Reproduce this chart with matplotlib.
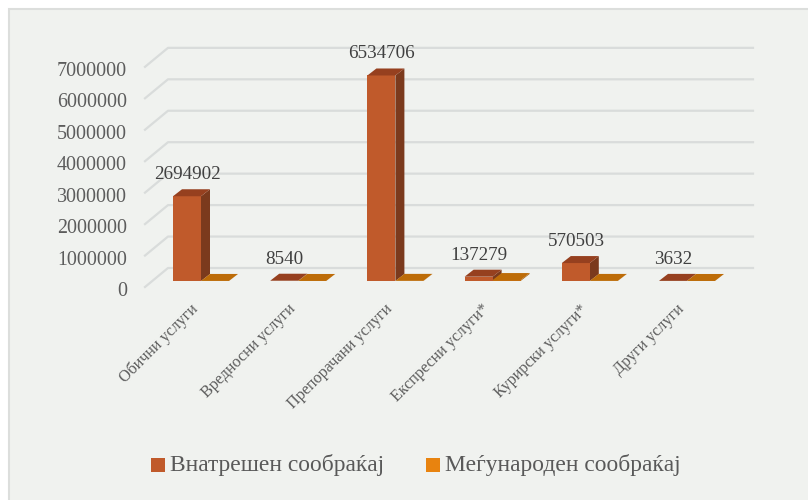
#!/usr/bin/env python3

import matplotlib
matplotlib.use("Agg")
import matplotlib.pyplot as plt
from matplotlib.patches import Polygon, Rectangle

categories = [
    "Обични услуги",
    "Вредносни услуги",
    "Препорачани услуги",
    "Експресни услуги*",
    "Курирски услуги*",
    "Други услуги",
]
domestic = [2694902, 8540, 6534706, 137279, 570503, 3632]
international = [1500, 800, 4000, 30000, 2500, 600]
y_ticks = [0, 1000000, 2000000, 3000000, 4000000, 5000000, 6000000, 7000000]
legend_labels = ["Внатрешен сообраќај", "Меѓународен сообраќај"]

W, H = 808, 500
PX_X = 97.2          # pixels per category
PX_Y = 31.45 / 1e6   # pixels per unit
X0, Y0 = 201, 281    # pixel of first category, value 0


def dx(px):
    return px / PX_X


def dy(px):
    return px / PX_Y


def box(ax, x, width, value, front, side, top):
    depth_x, depth_y = dx(9), dy(7)
    right = x + width
    ax.add_patch(Polygon([(x, 0), (right, 0), (right, value), (x, value)], color=front, lw=0, zorder=4))
    ax.add_patch(Polygon([(right, 0), (right + depth_x, depth_y), (right + depth_x, value + depth_y), (right, value)],
                         color=side, lw=0, zorder=3))
    ax.add_patch(Polygon([(x, value), (right, value), (right + depth_x, value + depth_y), (x + depth_x, value + depth_y)],
                         color=top, lw=0, zorder=4))


plt.rcParams["font.family"] = ["Liberation Serif", "DejaVu Serif"]

fig = plt.figure(figsize=(W / 100, H / 100), dpi=100, facecolor="white")
ax = fig.add_axes([0, 0, 1, 1])
ax.set_xlim(-X0 / PX_X, (W - X0) / PX_X)
ax.set_ylim((Y0 - H) / PX_Y, Y0 / PX_Y)
ax.axis("off")

# panel behind the chart, only the top and left edges show
ax.add_patch(Rectangle((dx(9 - X0), dy(Y0 - H - 5)), dx(W), dy(H + 5 - 9), facecolor="#f0f2ef",
                       edgecolor="#dcdedc", lw=1.5, zorder=0))

# gridlines: floor/side part, then along the back wall
back_x, back_y = dx(168 - X0), dy(Y0 - 268)
front_x, front_y = dx(145 - X0), dy(Y0 - 287)
end_x = dx(753 - X0)
for t in y_ticks:
    ax.plot([front_x, back_x, end_x], [t + front_y, t + back_y, t + back_y], color="#d9dcdb", lw=1.6,
            solid_joinstyle="round", zorder=1)
    ax.text(dx(127 - X0), t + front_y - dy(2), str(t), ha="right", va="center_baseline", fontsize=14.4,
            color="#5c5c5c", zorder=5)

bar_w = dx(28)
for i, name in enumerate(categories):
    box(ax, i - bar_w, bar_w, domestic[i], "#c05a2b", "#7b3a1d", "#96401f")
    box(ax, i, bar_w, international[i], "#c46f10", "#a85f0c", "#bd6c08")
    ax.text(i - bar_w * 0.35 - dx(4), domestic[i] + dy(13), str(domestic[i]), ha="center", va="bottom",
            fontsize=13.8, color="#404040", zorder=6)
    ax.text(i - dx(5), dy(281 - 307), name, rotation=45, rotation_mode="anchor", ha="right", va="center",
            fontsize=11.6, color="#5c5c5c", zorder=5)

# legend
legend_colors = ["#c05a2b", "#e8830f"]
legend_x = [151, 426]
for label, color, px in zip(legend_labels, legend_colors, legend_x):
    ax.add_patch(Rectangle((dx(px - X0), dy(Y0 - 472)), dx(14), dy(14), color=color, lw=0, zorder=5))
    ax.text(dx(px + 19 - X0), dy(Y0 - 465), label, ha="left", va="center", fontsize=16.9, color="#595959", zorder=5)

fig.savefig("out.png", dpi=100)
plt.close(fig)
